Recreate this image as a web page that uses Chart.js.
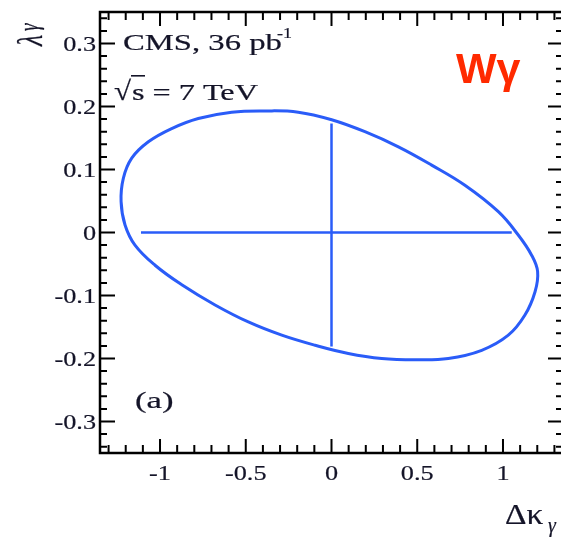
<!DOCTYPE html>
<html>
<head>
  <meta charset="UTF-8">
  <title>CMS W gamma limits</title>
  <script src="https://cdn.jsdelivr.net/npm/chart.js"></script>
  <style>
    html, body { margin: 0; padding: 0; background: #fff; overflow: hidden; }
    canvas { display: block; }
  </style>
</head>
<body>
  <canvas id="plot" width="566" height="537"></canvas>

  <script>
    // contour (delta kappa_gamma, lambda_gamma), starting at the top;
    // the curve is closed by the line element itself
    const contourK = [-0.388, -0.194, 0.001, 0.195, 0.390, 0.584, 0.778, 0.973, 1.089, 1.167,
                      1.202, 1.187, 1.128, 1.031, 0.876, 0.681, 0.487, 0.293, 0.098, -0.096,
                      -0.290, -0.485, -0.679, -0.873, -1.029, -1.146, -1.204, -1.227, -1.214, -1.165,
                      -1.068, -0.932, -0.777, -0.582];
    const contourL = [0.193, 0.191, 0.179, 0.160, 0.136, 0.107, 0.075, 0.033, -0.004, -0.036,
                      -0.062, -0.094, -0.131, -0.163, -0.187, -0.200, -0.202, -0.200, -0.192, -0.179,
                      -0.163, -0.142, -0.115, -0.083, -0.052, -0.020, 0.012, 0.049, 0.086, 0.118,
                      0.144, 0.165, 0.181, 0.191];

    // 1-D limits shown as the cross
    const kappaRange = [-1.111, 1.051];
    const lambdaRange = [-0.181, 0.173];

    const xTicks = [-1, -0.5, 0, 0.5, 1];
    const xTickLabels = ['-1', '-0.5', '0', '0.5', '1'];
    const yTicks = [0.3, 0.2, 0.1, 0, -0.1, -0.2, -0.3];
    const yTickLabels = ['0.3', '0.2', '0.1', '0', '-0.1', '-0.2', '-0.3'];

    const blue = '#2a5cf8';
    const ink = '#141428';
    const serif = '"Liberation Serif", "DejaVu Serif", serif';

    const ellipse = contourK.map((k, i) => ({ x: k, y: contourL[i] }));

    // text squeezed like the original figure (it is wider than tall)
    function stretchText(ctx, txt, x, y, sx, align) {
      ctx.save();
      ctx.translate(x, y);
      ctx.scale(sx, 1);
      ctx.textAlign = align || 'left';
      ctx.lineWidth = 0.2;
      ctx.strokeStyle = ctx.fillStyle;
      ctx.fillText(txt, 0, 0);
      ctx.strokeText(txt, 0, 0);
      ctx.restore();
    }

    // make the contour a closed smooth loop (like a radar line)
    const loopPlugin = {
      id: 'loop',
      afterDatasetUpdate(chart, args) {
        if (args.index !== 0) return;
        const line = chart.getDatasetMeta(0).dataset;
        if (!line) return;
        line._loop = true;
        line._fullLoop = true;
        line._pointsUpdated = false;
        delete line._segments;
        delete line._path;
        try { line.updateControlPoints(chart.chartArea, 'x'); } catch (e) {}
      }
    };

    const framePlugin = {
      id: 'frame',
      afterDatasetsDraw(chart) {
        const ctx = chart.ctx;
        const a = chart.chartArea;
        const xs = chart.scales.x, ys = chart.scales.y;
        ctx.save();
        ctx.strokeStyle = '#000';
        ctx.lineWidth = 2.5;
        ctx.strokeRect(a.left, a.top, a.right - a.left, a.bottom - a.top);

        ctx.lineWidth = 2;
        ctx.beginPath();
        // x ticks, major and minor, top and bottom, pointing inward
        for (let i = -13; i <= 13; i++) {
          const px = xs.getPixelForValue(i / 10);
          const len = i % 5 === 0 ? 14 : 8;
          ctx.moveTo(px, a.bottom); ctx.lineTo(px, a.bottom - len);
          ctx.moveTo(px, a.top); ctx.lineTo(px, a.top + len);
        }
        // y ticks
        for (let i = -17; i <= 17; i++) {
          const py = ys.getPixelForValue(i * 0.02);
          const len = i % 5 === 0 ? 15 : 7;
          ctx.moveTo(a.left, py); ctx.lineTo(a.left + len, py);
          ctx.moveTo(a.right, py); ctx.lineTo(a.right - len, py);
        }
        ctx.stroke();

        // tick labels
        ctx.fillStyle = ink;
        ctx.font = '21px ' + serif;
        ctx.textBaseline = 'alphabetic';
        xTicks.forEach((v, i) => {
          stretchText(ctx, xTickLabels[i], xs.getPixelForValue(v), 480, 1.25, 'center');
        });
        yTicks.forEach((v, i) => {
          stretchText(ctx, yTickLabels[i], 96, ys.getPixelForValue(v) + 7, 1.25, 'right');
        });

        // axis titles
        ctx.save();
        ctx.translate(42, 46);
        ctx.rotate(-Math.PI / 2);
        ctx.scale(1, 1.4);
        ctx.font = 'italic 26px ' + serif;
        stretchText(ctx, '\u03bb', 0, 0, 1);
        ctx.font = 'italic 19px ' + serif;
        stretchText(ctx, '\u03b3', 15, -3, 1);
        ctx.restore();

        ctx.font = '29px ' + serif;
        stretchText(ctx, '\u0394\u03ba', 505, 524, 1.15);
        ctx.font = 'italic 20px ' + serif;
        stretchText(ctx, '\u03b3', 548, 532, 1);

        // annotations
        ctx.font = '23px ' + serif;
        stretchText(ctx, 'CMS, 36 pb', 123, 50, 1.42);
        ctx.font = '15px ' + serif;
        stretchText(ctx, '-1', 277, 38, 1.2);
        ctx.font = '27px ' + serif;
        stretchText(ctx, '\u221a', 114, 100, 1.15);
        ctx.fillRect(131, 75, 14, 1.6);
        ctx.font = '23px ' + serif;
        stretchText(ctx, 's = 7 TeV', 132, 100, 1.4);

        ctx.font = '24px ' + serif;
        stretchText(ctx, '(a)', 135, 408, 1.45);

        ctx.fillStyle = '#ff2a00';
        ctx.font = 'bold 43px "Liberation Sans", Arial, sans-serif';
        ctx.fillText('W\u03b3', 456, 83);
        ctx.restore();
      }
    };

    new Chart(document.getElementById('plot').getContext('2d'), {
      type: 'scatter',
      data: {
        datasets: [
          {
            data: ellipse,
            showLine: true,
            borderColor: blue,
            borderWidth: 3,
            pointRadius: 0,
            tension: 0.4,
            spanGaps: true,
            fill: false
          },
          {
            data: [{ x: kappaRange[0], y: 0 }, { x: kappaRange[1], y: 0 }],
            showLine: true,
            borderColor: blue,
            borderWidth: 2.5,
            pointRadius: 0
          },
          {
            data: [{ x: 0, y: lambdaRange[0] }, { x: 0, y: lambdaRange[1] }],
            showLine: true,
            borderColor: blue,
            borderWidth: 2.5,
            pointRadius: 0
          }
        ]
      },
      options: {
        responsive: false,
        animation: false,
        layout: { padding: { top: 12, right: 3, left: 0, bottom: 0 } },
        plugins: {
          legend: { display: false },
          tooltip: { enabled: false }
        },
        scales: {
          x: {
            type: 'linear',
            min: -1.35,
            max: 1.35,
            grid: { display: false },
            border: { display: false },
            ticks: { display: false },
            afterFit: s => { s.height = 84; }
          },
          y: {
            type: 'linear',
            min: -0.35,
            max: 0.35,
            grid: { display: false },
            border: { display: false },
            ticks: { display: false },
            afterFit: s => { s.width = 100; }
          }
        }
      },
      plugins: [loopPlugin, framePlugin]
    });
  </script>
</body>
</html>
